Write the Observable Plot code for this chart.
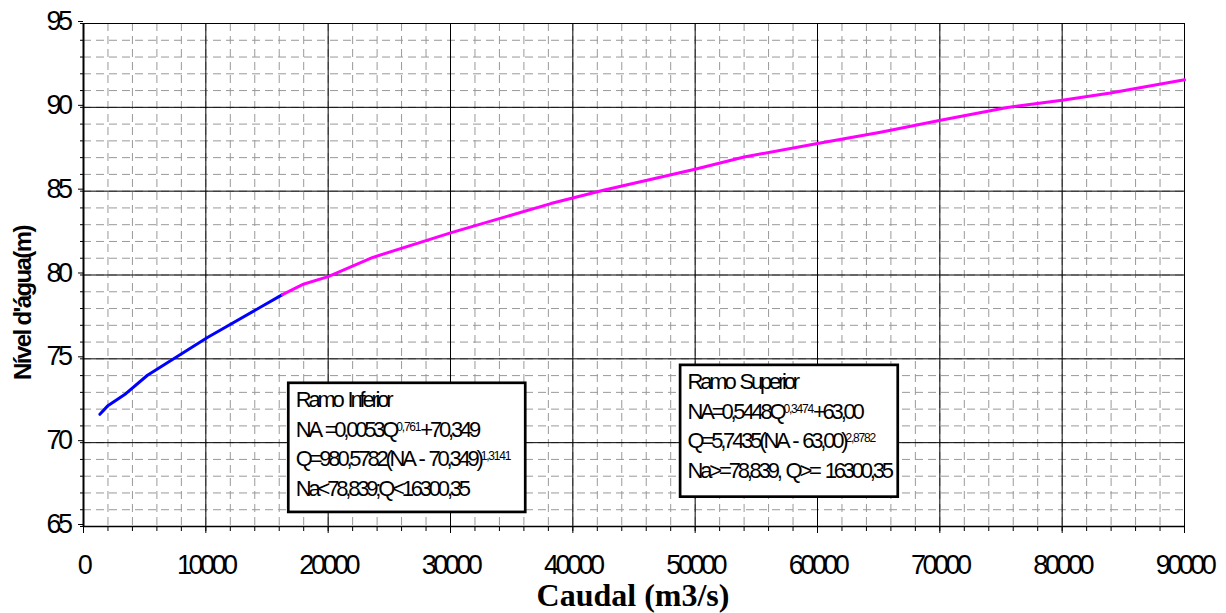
<!DOCTYPE html>
<html><head><meta charset="utf-8">
<script src="https://cdn.jsdelivr.net/npm/d3@7"></script>
<script src="https://cdn.jsdelivr.net/npm/@observablehq/plot@0.6"></script>
<style>body{margin:0;background:#fff}</style>
</head><body><div id="chart"></div>
<script>
// Ramo inferior (blue)
const lowerQ  = [1340, 1960, 3460, 5230, 10130, 16260];
const lowerNA = [71.69, 72.18, 72.92, 74.02, 76.27, 78.83];
// Ramo superior (magenta)
const upperQ  = [16260, 17900, 20000, 23600, 30000, 38200, 42500, 49900, 54000, 60000, 65150, 70060, 75510, 80000, 83950, 90000];
const upperNA = [78.83, 79.43, 79.90, 81.04, 82.51, 84.26, 85.05, 86.29, 87.04, 87.84, 88.51, 89.23, 89.99, 90.42, 90.86, 91.64];

const xTicks = [0, 10000, 20000, 30000, 40000, 50000, 60000, 70000, 80000, 90000];
const yTicks = [65, 70, 75, 80, 85, 90, 95];
const xLabel = "Caudal (m3/s)";
const yLabel = "Nível d'água(m)";

// annotation boxes (data units)
const boxX1 = [16780, 48810];
const boxX2 = [36150, 66600];
const boxTop = [73.54, 74.61];
const boxBottom = [65.84, 66.75];
const boxLines = [
  ["Ramo Inferior", "NA =0,0053Q^{0,761}+70,349", "Q=980,5782(NA - 70,349)^{1,3141}", "Na<78,839;Q<16300,35"],
  ["Ramo Superior", "NA=0,5448Q^{0,3474}+63,00", "Q=5,7435(NA - 63,00)^{2,8782}", "Na>=78,839, Q>= 16300,35"]
];

const lower = lowerQ.map((q, i) => ({q, na: lowerNA[i]}));
const upper = upperQ.map((q, i) => ({q, na: upperNA[i]}));
const boxes = boxX1.map((x1, i) => ({x1, x2: boxX2[i], y1: boxTop[i], y2: boxBottom[i], lines: boxLines[i]}));

const xMinor = d3.range(0, 90001, 2000);
const yMinor = d3.range(65, 95.5, 1);

const sans = "'Liberation Sans', Arial, sans-serif";

const svg = Plot.plot({
  width: 1226,
  height: 613,
  marginLeft: 83,
  marginRight: 42,
  marginTop: 23,
  marginBottom: 87,
  style: {fontFamily: sans, fontSize: "26px", color: "#000", background: "#fff", overflow: "visible"},
  x: {domain: [0, 90000]},
  y: {domain: [65, 95]},
  marks: [
    Plot.gridY(yMinor, {stroke: "#999", strokeOpacity: 1, strokeDasharray: "8,5"}),
    Plot.gridX(xMinor, {stroke: "#999", strokeOpacity: 1, strokeDasharray: "8,5"}),
    Plot.gridY(yTicks, {stroke: "#000", strokeOpacity: 1}),
    Plot.gridX(xTicks, {stroke: "#000", strokeOpacity: 1}),
    Plot.frame({stroke: "#000"}),
    Plot.axisY(yMinor, {tickSize: 3, tickFormat: () => "", label: null}),
    Plot.axisY(yTicks, {tickSize: 5, tickPadding: 9, tickFormat: d => String(d), label: null, dy: -2, fontSize: 27}),
    Plot.axisX(xMinor, {tickSize: 5, tickFormat: () => "", label: null}),
    Plot.axisX(xTicks, {tickSize: 7, tickPadding: 21, tickFormat: d => String(d), label: null, fontSize: 27}),
    Plot.ruleX([0], {stroke: "#000", strokeWidth: 2}),
    Plot.ruleY([65], {stroke: "#000", strokeWidth: 1.5}),
    Plot.line(lower, {x: "q", y: "na", stroke: "#0000ff", strokeWidth: 3}),
    Plot.line(upper, {x: "q", y: "na", stroke: "#ff00ff", strokeWidth: 3}),
    Plot.rect(boxes, {x1: "x1", x2: "x2", y1: "y1", y2: "y2", fill: "#fff", stroke: "#000", strokeWidth: 2.7}),
    ...[0, 1, 2, 3].map(i => Plot.text(boxes, {
      x: "x1", y: "y1", text: d => d.lines[i], dx: 7, dy: 24 + i * 29.4,
      textAnchor: "start", lineAnchor: "bottom", fontSize: 22, fill: "#000"
    }))
  ]
});

document.getElementById("chart").appendChild(svg);

const ns = "http://www.w3.org/2000/svg";
const tickStrings = new Set([...xTicks, ...yTicks].map(String));
const annoStrings = new Set(boxLines.flat());
svg.querySelectorAll("text").forEach(t => {
  const s = t.textContent;
  if (tickStrings.has(s)) {
    t.style.fontSize = "27px";
    t.style.letterSpacing = "-3.5px";
    return;
  }
  if (!annoStrings.has(s)) return;
  t.style.fontSize = "22px";
  t.style.letterSpacing = "-3.2px";
  t.style.wordSpacing = "3px";
  const m = s.match(/^(.*)\^\{(.*)\}(.*)$/);
  if (m) {
    t.textContent = "";
    const a = document.createElementNS(ns, "tspan"); a.textContent = m[1];
    const b = document.createElementNS(ns, "tspan"); b.textContent = m[2];
    b.setAttribute("dy", "-6"); b.style.fontSize = "12px"; b.style.letterSpacing = "-1.2px";
    const c = document.createElementNS(ns, "tspan"); c.textContent = m[3];
    c.setAttribute("dy", "6");
    t.append(a, b, c);
  }
});

const root = d3.select(svg);
root.append("text")
  .attr("transform", "translate(22.5,303) rotate(-90)")
  .attr("text-anchor", "middle")
  .attr("dy", "0.36em")
  .attr("font-family", sans)
  .attr("font-weight", "bold")
  .style("font-size", "24px")
  .style("letter-spacing", "-1.6px")
  .attr("fill", "#000")
  .text(yLabel);
root.append("text")
  .attr("x", 633)
  .attr("y", 606)
  .attr("text-anchor", "middle")
  .attr("font-family", "'Liberation Serif', 'Times New Roman', serif")
  .attr("font-weight", "bold")
  .style("font-size", "32px")
  .attr("fill", "#000")
  .text(xLabel);
</script>
</body></html>
